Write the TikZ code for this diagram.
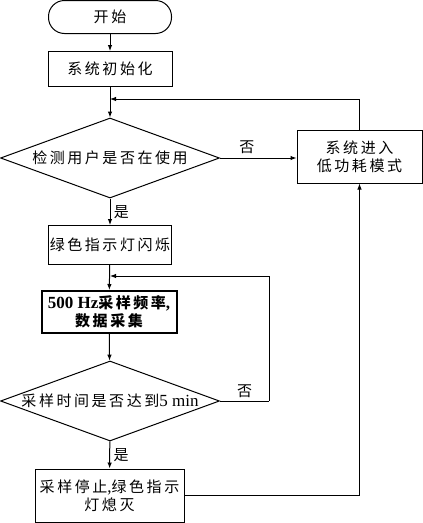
\documentclass[tikz,border=0pt]{standalone}
\usepackage{fontspec}
\setmainfont{Liberation Serif}
\newfontfamily\cjk[LetterSpace=17]{Noto Sans CJK SC}
\usepackage{tikz}
\usetikzlibrary{shapes.geometric,arrows.meta}
\newcommand{\lat}[1]{{\fontsize{17}{17}\selectfont\rmfamily #1}}

\begin{document}
\begin{tikzpicture}[x=1pt,y=-1pt,
		box/.style={draw,line width=1pt,inner sep=1pt,align=center,font=\fontsize{15}{18}\selectfont\cjk},
		cond/.style={draw,diamond,aspect=2.74,line width=1pt,inner sep=0pt,font=\fontsize{15}{18}\selectfont\cjk},
		flow/.style={line width=1pt,-{Latex[length=6pt,width=4.5pt]}},
		lbl/.style={font=\fontsize{15}{18}\selectfont\cjk}]
			\useasboundingbox (0,0) rectangle (423,523);
			% main column of steps
			\node[box,rounded corners=16pt,minimum width=123pt,minimum height=33pt] (start) at (110,17) {开始};
			\node[box,minimum width=124pt,minimum height=35pt] (init) at (110,69) {系统初始化};
			\node[cond,minimum width=219pt,minimum height=80pt] (check) at (110,158) {检测用户是否在使用};
			\node[box,minimum width=125pt,minimum height=53pt] (lowpow) at (359.5,156.5) {系统进入\\低功耗模式};
			\node[box,minimum width=123pt,minimum height=39pt] (green) at (110,245) {绿色指示灯闪烁};
			\node[box,line width=2pt,minimum width=135pt,minimum height=42pt,font=\fontsize{15}{18}\selectfont\bfseries] (sample) at (109,312) {\lat{\bfseries 500 Hz}{\cjk\bfseries 采样频率}\lat{\bfseries ,} \\ {\cjk\bfseries 数据采集}};
			\node[cond,minimum width=219pt,minimum height=80pt] (timeok) at (110,401) {采样时间是否达到\lat{5 min}};
			\node[box,minimum width=149pt,minimum height=53pt] (stop) at (109.5,495.5) {采样停止\lat{,}绿色指示\\灯熄灭};
			% joints of the two loops
			\coordinate (j1) at (110,99);
			\coordinate (j2) at (110,276);
			\coordinate (r2) at (269,401);
			% downward arrows
			\draw[flow] (start) -- (init);
			\draw[flow] (init) -- (check);
			\draw[flow] (check) -- (green) node[lbl,pos=0.5,right=0pt] {是};
			\draw[flow] (green) -- (sample);
			\draw[flow] (sample) -- (timeok);
			\draw[flow] (timeok) -- (stop) node[lbl,pos=0.5,right=0pt] {是};
			% branch to low power mode and back
			\draw[flow] (check.east) -- (check.east -| lowpow.west) node[lbl,pos=0.35,above=0pt] {否};
			\draw[flow] (lowpow.north) |- (j1);
			\draw[flow] (stop.east) -| (lowpow.south);
			% sampling loop
			\draw[line width=1pt] (timeok.east) -- (r2) node[lbl,pos=0.5,above=-1pt] {否};
			\draw[flow] (r2) |- (j2);
		\end{tikzpicture}
\end{document}
